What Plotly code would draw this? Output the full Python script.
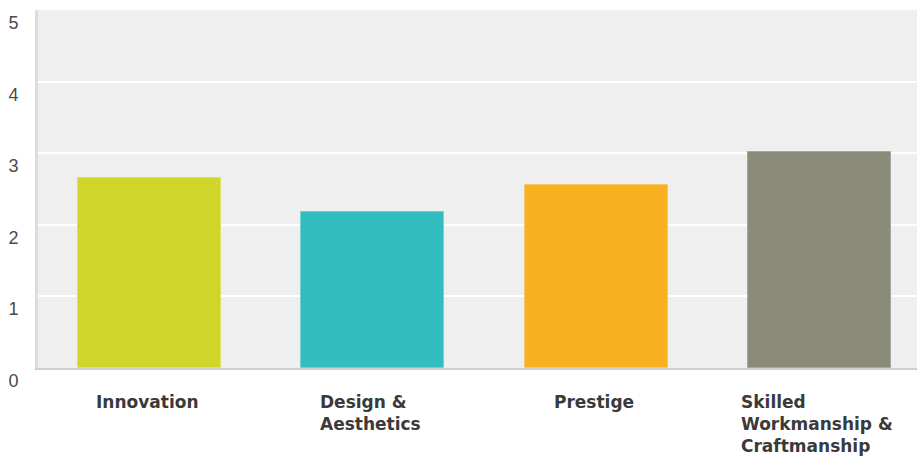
import plotly.graph_objects as go

categories = ["Innovation", "Design &<br>Aesthetics", "Prestige", "Skilled<br>Workmanship &<br>Craftmanship"]
values = [2.66, 2.18, 2.56, 3.01]
bar_colors = ["#D0D52A", "#33BDBF", "#F7B020", "#8A8B79"]
edge_colors = ["#DDE06A", "#74D2D3", "#F9C867", "#A7A89A"]
y_ticks = [0, 1, 2, 3, 4, 5]

x_pos = list(range(len(categories)))

fig = go.Figure()
fig.add_trace(go.Bar(
    x=x_pos,
    y=values,
    width=0.64,
    marker=dict(color=bar_colors, line=dict(color=edge_colors, width=1)),
    hoverinfo="skip",
))

# category labels: block centred under each bar, lines left-aligned
for i, label in enumerate(categories):
    fig.add_annotation(
        x=x_pos[i], xref="x", xshift=-2,
        y=0, yref="paper", yanchor="top", yshift=-22,
        xanchor="center", align="left",
        text=label, showarrow=False,
        font=dict(family="DejaVu Sans", size=17, color="#3a3a3a", weight="bold"),
    )

fig.update_layout(
    width=917, height=458,
    margin=dict(l=38, r=0, t=10, b=90),
    plot_bgcolor="#EFEFEF",
    paper_bgcolor="#FFFFFF",
    showlegend=False,
    bargap=0,
)
fig.update_xaxes(
    range=[-0.5, 3.437],
    showticklabels=False, showgrid=False, zeroline=False,
    showline=True, linecolor="#D0D0D0", linewidth=2,
    fixedrange=True,
)
fig.update_yaxes(
    range=[0, 5], tickvals=y_ticks,
    showgrid=True, gridcolor="#FFFFFF", gridwidth=2,
    zeroline=False,
    showline=True, linecolor="#DDDDDD", linewidth=3,
    ticklabelposition="outside bottom",
    ticklabelstandoff=13,
    tickfont=dict(family="Liberation Sans", size=18, color="#4a4a4a"),
    fixedrange=True,
)

fig.write_html("out.html")
